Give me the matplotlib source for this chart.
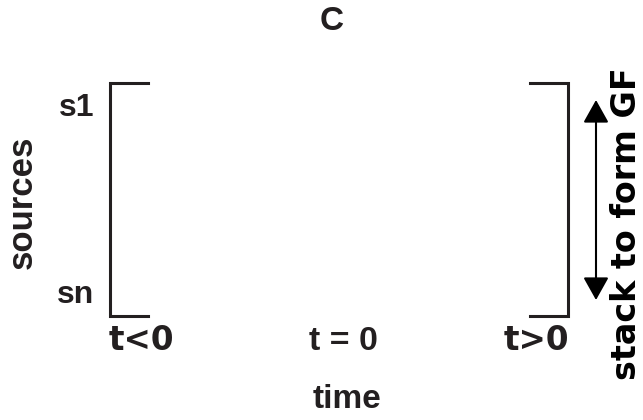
import matplotlib
matplotlib.use("Agg")
from matplotlib import pyplot as plt

# labels of the diagram
panel_label = "C"
source_labels = ["s1", "sn"]
time_labels = ["t<0", "t = 0", "t>0"]
x_label = "time"
y_label = "sources"
stack_label = "stack to form GF"

# layout in pixel units of the 643x420 canvas
source_y = [108, 295]
bracket_top, bracket_bot = 83, 316
left_x, right_x = 110, 568
tick_len = 38

fig = plt.figure(figsize=(6.43, 4.20), dpi=100)
ax = fig.add_axes([0, 0, 1, 1])
ax.set_xlim(0, 643)
ax.set_ylim(420, 0)
ax.axis("off")

helv = "Liberation Sans"
dejavu = "DejaVu Sans"
ink = "#231f20"
lw = 2.2

# left bracket
ax.plot([left_x + tick_len, left_x, left_x, left_x + tick_len],
        [bracket_top, bracket_top, bracket_bot, bracket_bot],
        color=ink, lw=lw, solid_joinstyle="miter")
# right bracket
ax.plot([right_x - tick_len, right_x, right_x, right_x - tick_len],
        [bracket_top, bracket_top, bracket_bot, bracket_bot],
        color=ink, lw=lw, solid_joinstyle="miter")

# double arrow
ax.annotate("", xy=(596, 100), xytext=(596, 300),
            arrowprops=dict(arrowstyle="<|-|>,head_length=0.5,head_width=0.28",
                            color="black", lw=1.5,
                            mutation_scale=28, shrinkA=0, shrinkB=0))

ax.text(332, 22, panel_label, fontsize=24, fontweight="bold", family=helv,
        ha="center", va="center", color=ink)

for lab, y in zip(source_labels, source_y):
    ax.text(94, y, lab, fontsize=23, fontweight="bold", family=helv,
            ha="right", va="center", color=ink)

ax.text(22, 202, y_label, fontsize=25, fontweight="bold", family=helv,
        ha="center", va="center", rotation=90, color=ink)

# time labels
ax.text(109, 341, time_labels[0], fontsize=23.5, fontweight="bold", family=dejavu,
        ha="left", va="center", color=ink)
ax.text(343, 341, time_labels[1], fontsize=24.5, fontweight="bold", family=helv,
        ha="center", va="center", color=ink)
ax.text(569, 341, time_labels[2], fontsize=23.5, fontweight="bold", family=dejavu,
        ha="right", va="center", color=ink)

ax.text(347, 400, x_label, fontsize=24, fontweight="bold", family=helv,
        ha="center", va="center", color=ink)

ax.text(627, 224, stack_label, fontsize=24, fontweight="bold", family=dejavu,
        ha="center", va="center", rotation=90, color="black")

plt.savefig("out.png", dpi=100)
plt.close()
